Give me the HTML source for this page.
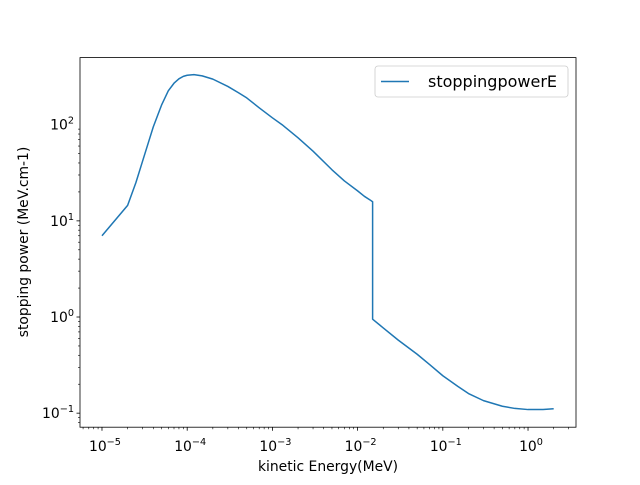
<!DOCTYPE html>
<html><head><meta charset="utf-8"><style>
html,body{margin:0;padding:0;background:#fff;}
svg text{font-family:"DejaVu Sans","Liberation Sans",sans-serif;}
</style></head><body>
<svg id="chart" width="640" height="480" xmlns="http://www.w3.org/2000/svg">
<rect width="640" height="480" fill="#fff"/>
<g id="ticks"></g>
<path id="series" fill="none" stroke="#1f77b4" stroke-width="1.5" stroke-linejoin="round"/>
<rect x="80" y="57.6" width="496" height="369.6" fill="none" stroke="#000" stroke-width="0.8"/>
<text x="328" y="471" font-size="13.9" text-anchor="middle">kinetic Energy(MeV)</text>
<text transform="translate(28,242) rotate(-90)" font-size="13.9" text-anchor="middle">stopping power (MeV.cm-1)</text>
<g>
<rect x="375" y="66" width="193" height="31" rx="3" fill="#fff" stroke="#ccc" stroke-width="0.8"/>
<line x1="381" y1="81.5" x2="409" y2="81.5" stroke="#1f77b4" stroke-width="1.5"/>
<text x="428" y="87" font-size="16">stoppingpowerE</text>
</g>
</svg>
<script>
const energies = [1e-5,2e-5,2.5e-5,3e-5,3.5e-5,4e-5,4.5e-5,5e-5,6e-5,7e-5,8e-5,9e-5,1e-4,1.2e-4,1.5e-4,2e-4,3e-4,4e-4,5e-4,7e-4,1e-3,1.3e-3,1.5e-3,2e-3,3e-3,5e-3,7e-3,1e-2,1.2e-2,1.4e-2,1.5e-2,1.5e-2,2e-2,3e-2,5e-2,7e-2,1e-1,1.5e-1,2e-1,3e-1,5e-1,7e-1,1,1.5,2];
const stoppingPower = [7,14.5,25,42,65,95,125,160,225,270,300,318,327,332,322,298,250,215,190,150,118,100,90,73,53,34,26,20.5,18,16.5,15.8,0.95,0.77,0.575,0.41,0.32,0.245,0.19,0.16,0.135,0.118,0.112,0.109,0.109,0.111];
const xTickExps = [-5,-4,-3,-2,-1,0];
const yTickExps = [-1,0,1,2];
const L=80,R=576,T=57.6,B=427.2;
const xMin=-5.258,xMax=0.563,yMin=-1.146,yMax=2.698;
const sx=v=>L+(Math.log10(v)-xMin)/(xMax-xMin)*(R-L);
const sy=v=>B-(Math.log10(v)-yMin)/(yMax-yMin)*(B-T);
const NS="http://www.w3.org/2000/svg";
document.getElementById('series').setAttribute('d',energies.map((e,i)=>(i?'L':'M')+sx(e).toFixed(2)+','+sy(stoppingPower[i]).toFixed(2)).join(''));
const g=document.getElementById('ticks');
function line(x1,y1,x2,y2,name){const l=document.createElementNS(NS,'line');l.setAttribute('x1',x1);l.setAttribute('y1',y1);l.setAttribute('x2',x2);l.setAttribute('y2',y2);l.setAttribute('stroke','#000');l.setAttribute('stroke-width',name.includes('minor')?0.6:0.8);


g.appendChild(l);}
function label(x,y,exp,anchor,name){const t=document.createElementNS(NS,'text');t.setAttribute('x',x);t.setAttribute('y',y);t.setAttribute('font-size','13.9');t.setAttribute('text-anchor',anchor);


const s=String(exp).replace('-','\u2212');t.innerHTML='10<tspan font-size="9.7" dy="-6">'+s+'</tspan>';g.appendChild(t);}
for(let d=-6;d<=1;d++){for(let m=1;m<10;m++){const v=m*Math.pow(10,d);const lv=Math.log10(v);
 if(lv>=xMin&&lv<=xMax){const x=sx(v);if(m===1){line(x,B,x,B+3.5,'x-major-tick');}else line(x,B,x,B+2,'x-minor-tick');}
 if(lv>=yMin&&lv<=yMax){const y=sy(v);if(m===1){line(L,y,L-3.5,y,'y-major-tick');}else line(L,y,L-2,y,'y-minor-tick');}
}}
xTickExps.forEach(e=>label(sx(Math.pow(10,e))+3,B+24,e,'middle','x-tick-label'));
yTickExps.forEach(e=>label(L-6,sy(Math.pow(10,e))+5,e,'end','y-tick-label'));
</script>
</body></html>
